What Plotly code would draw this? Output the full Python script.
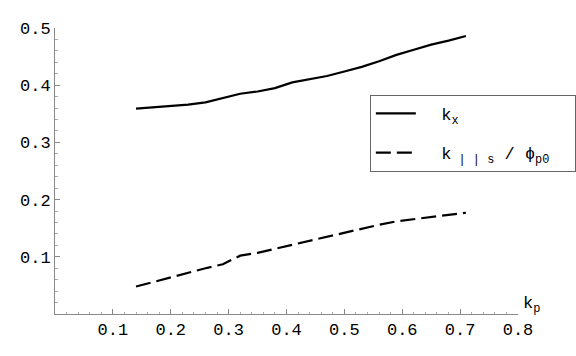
import plotly.graph_objects as go

# k_p の値
kp = [0.14, 0.17, 0.20, 0.23, 0.26, 0.29, 0.32, 0.35, 0.38, 0.41,
      0.44, 0.47, 0.50, 0.53, 0.56, 0.59, 0.62, 0.65, 0.68, 0.71]
# k_x (実線)
kx = [0.359, 0.361, 0.363, 0.366, 0.370, 0.377, 0.385, 0.389, 0.395, 0.405,
      0.411, 0.416, 0.424, 0.432, 0.442, 0.453, 0.462, 0.471, 0.478, 0.486]
# k_||s / phi_p0 (破線)
ks = [0.048, 0.056, 0.065, 0.073, 0.080, 0.087, 0.102, 0.107, 0.114, 0.121,
      0.129, 0.136, 0.143, 0.150, 0.156, 0.162, 0.166, 0.170, 0.174, 0.177]

xticks = [0.1, 0.2, 0.3, 0.4, 0.5, 0.6, 0.7, 0.8]
yticks = [0.1, 0.2, 0.3, 0.4, 0.5]

mono = "Liberation Mono"
nb = "\u00a0"

fig = go.Figure()
fig.add_trace(go.Scatter(x=kp, y=kx, mode="lines",
                         name=nb * 2 + "k<sub>x</sub>",
                         legendgroup="a",
                         line=dict(color="black", width=2.2)))
fig.add_trace(go.Scatter(x=kp, y=ks, mode="lines",
                         name=nb * 2 + "k<sub>" + nb + "|" + nb + "|" + nb + "s</sub>" + nb + "/" + nb
                              + "\u03d5<sub>p0</sub>" + nb * 2,
                         legendgroup="b",
                         line=dict(color="black", width=2.2, dash="15px,6px")))

axis_common = dict(
    showgrid=False, zeroline=False, showline=True, automargin=False,
    linecolor="#888888", linewidth=1,
    ticks="inside", ticklen=5, tickcolor="#888888", tickwidth=1,
    minor=dict(ticks="inside", ticklen=2.5, tickcolor="#aaaaaa", dtick=0.02),
    tickfont=dict(family=mono, size=17, color="black"),
)

fig.update_xaxes(range=[0, 0.8], tickvals=xticks,
                 ticktext=[f"{v:.1f}" for v in xticks], **axis_common)
fig.update_yaxes(range=[0, 0.5], tickvals=yticks,
                 ticktext=[f"{v:.1f}" for v in yticks], **axis_common)

fig.add_annotation(x=1.0, y=0.0, xref="paper", yref="paper",
                   text="k<sub>p</sub>", showarrow=False,
                   xanchor="left", yanchor="middle", xshift=3, yshift=9,
                   font=dict(family=mono, size=17, color="black"))

fig.update_layout(
    width=576, height=356,
    margin=dict(l=55, r=58, t=28, b=42, autoexpand=False),
    plot_bgcolor="white", paper_bgcolor="white",
    legend=dict(x=0.68, y=0.766, xanchor="left", yanchor="top",
                bordercolor="#666666", borderwidth=1, bgcolor="white",
                tracegroupgap=14, itemwidth=40,
                font=dict(family=mono, size=17, color="black")),
)

# ページ本体の余白を消す
fig.write_html("out.html", config={"displayModeBar": False},
               post_script="document.body.style.margin='0';"
                           "document.body.style.overflow='hidden';")
